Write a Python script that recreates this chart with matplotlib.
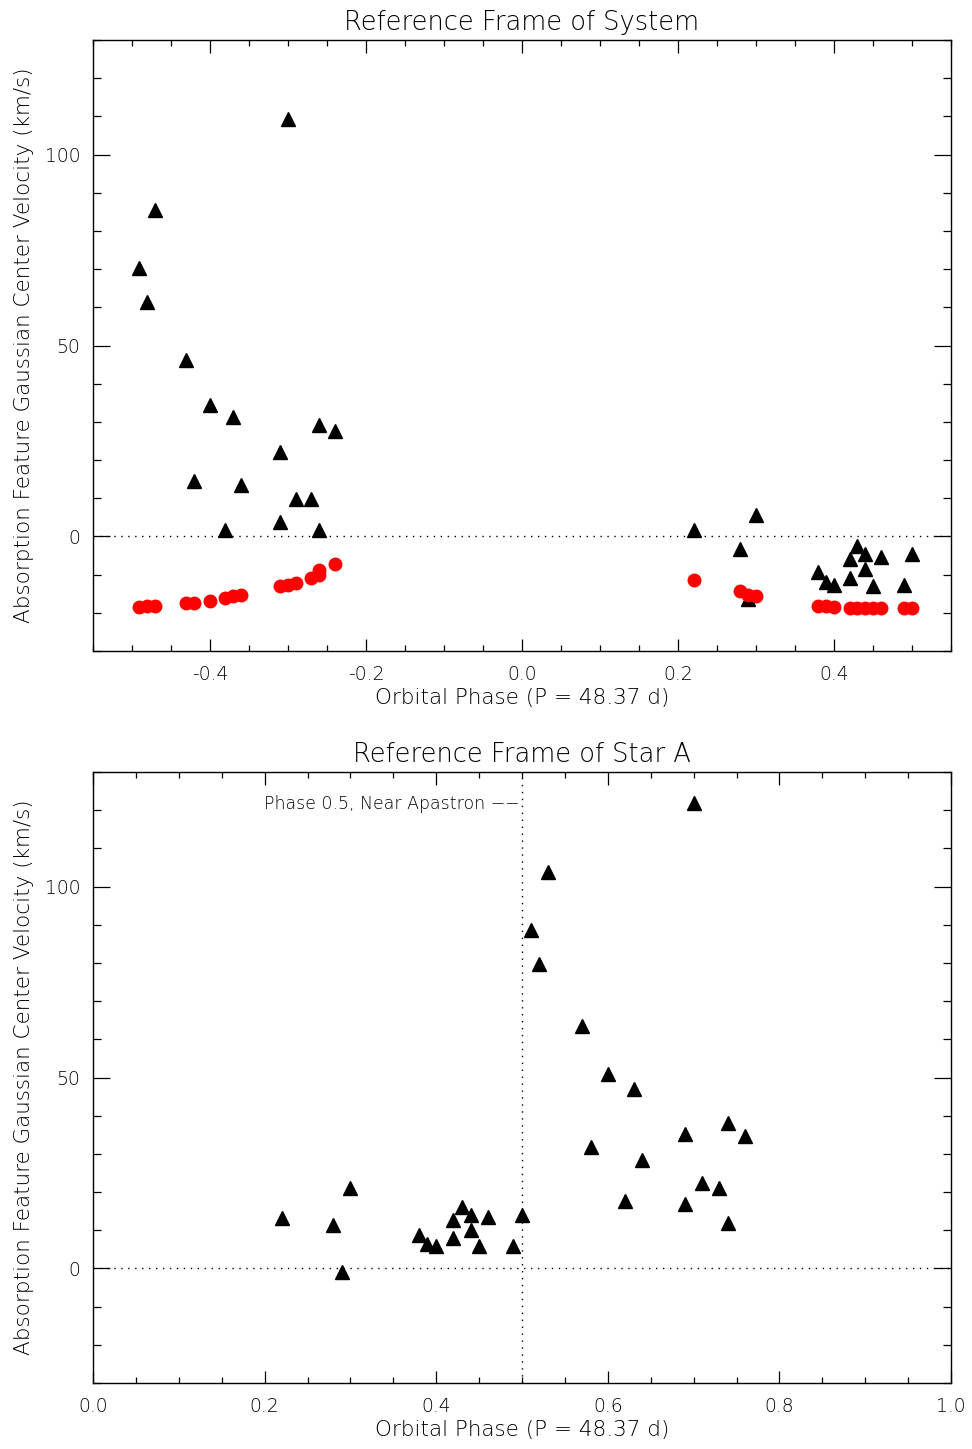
import matplotlib
matplotlib.use("Agg")
import matplotlib.pyplot as plt
from matplotlib.ticker import MultipleLocator, FormatStrFormatter

# ---- Data: Reference frame of system (top) ----
phase_sys = [-0.491, -0.481, -0.47, -0.431, -0.42, -0.40, -0.381, -0.37, -0.36,
             -0.31, -0.31, -0.30, -0.29, -0.27, -0.26, -0.26, -0.24,
             0.22, 0.28, 0.29, 0.30, 0.38, 0.39, 0.40, 0.42, 0.42, 0.43,
             0.44, 0.44, 0.45, 0.46, 0.49, 0.50]
vel_sys = [70.2, 61.5, 85.6, 46.3, 14.4, 34.3, 1.8, 31.4, 13.4,
           22.0, 3.7, 109.2, 9.9, 9.9, 29.1, 1.6, 27.5,
           1.6, -3.4, -16.5, 5.5, -9.4, -12.0, -12.6, -11.0, -5.8, -2.6,
           -4.5, -8.6, -13.1, -5.5, -12.8, -4.5]
phase_red = [-0.491, -0.481, -0.47, -0.431, -0.42, -0.40, -0.381, -0.37, -0.36,
             -0.31, -0.30, -0.29, -0.27, -0.26, -0.26, -0.24,
             0.22, 0.28, 0.29, 0.30, 0.38, 0.39, 0.40, 0.42, 0.43,
             0.44, 0.45, 0.46, 0.49, 0.50]
vel_red = [-18.6, -18.3, -18.1, -17.3, -17.3, -16.8, -16.0, -15.7, -15.4,
           -13.1, -12.6, -12.3, -11.0, -10.2, -8.9, -7.1,
           -11.3, -14.4, -15.2, -15.7, -18.1, -18.3, -18.4, -18.8, -18.8,
           -18.8, -18.8, -18.8, -18.8, -18.8]

# ---- Data: Reference frame of Star A (bottom) ----
phase_a = [0.22, 0.28, 0.29, 0.30, 0.38, 0.389, 0.40, 0.42, 0.42, 0.43, 0.44,
           0.44, 0.45, 0.46, 0.49, 0.50, 0.51, 0.52, 0.53, 0.57, 0.58, 0.60,
           0.62, 0.63, 0.64, 0.69, 0.69, 0.70, 0.71, 0.73, 0.74, 0.74, 0.76]
vel_a = [13.1, 11.3, -1.0, 21.2, 8.9, 6.5, 6.0, 12.8, 7.9, 16.2, 14.1,
         10.2, 5.8, 13.4, 5.8, 14.1, 88.7, 79.8, 103.7, 63.6, 31.7, 51.0,
         17.8, 47.1, 28.5, 35.1, 17.0, 122.0, 22.3, 21.2, 38.2, 11.8, 34.8]

titles = ["Reference Frame of System", "Reference Frame of Star A"]
xlabel = "Orbital Phase (P = 48.37 d)"
ylabel = "Absorption Feature Gaussian Center Velocity (km/s)"
annot = "Phase 0.5, Near Apastron \u2212\u2212"

plt.rcParams['font.family'] = ['DejaVu Sans']
plt.rcParams['font.weight'] = 'light'

fig = plt.figure(figsize=(9.72, 14.49), dpi=100)
ax1 = fig.add_axes([0.0957, 0.5507, 0.8827, 0.4217])
ax2 = fig.add_axes([0.0957, 0.0455, 0.8827, 0.4217])


def style(ax, xmaj, xmin):
    ax.set_ylim(-30, 130)
    ax.yaxis.set_major_locator(MultipleLocator(50))
    ax.yaxis.set_minor_locator(MultipleLocator(10))
    ax.xaxis.set_major_locator(MultipleLocator(xmaj))
    ax.xaxis.set_minor_locator(MultipleLocator(xmin))
    ax.xaxis.set_major_formatter(FormatStrFormatter('%.1f'))
    ax.tick_params(axis='both', which='both', direction='in', top=True, right=True,
                   labelsize=13.5, colors='black', width=0.9)
    ax.tick_params(axis='x', which='major', length=9, pad=10)
    ax.tick_params(axis='x', which='minor', length=4.5)
    ax.tick_params(axis='y', which='major', length=12, pad=9)
    ax.tick_params(axis='y', which='minor', length=6)
    for s in ax.spines.values():
        s.set_linewidth(1.0)
    ax.set_xlabel(xlabel, fontsize=15.5, labelpad=3, fontweight='light')
    ax.set_ylabel(ylabel, fontsize=15.5, labelpad=8, fontweight='light')


# Top panel
ax1.set_xlim(-0.55, 0.55)
style(ax1, 0.2, 0.05)
ax1.axhline(0, color='black', linestyle=(0, (1, 4)), linewidth=1)
ax1.plot(phase_sys, vel_sys, linestyle='none', marker='^', color='black', markersize=10)
ax1.plot(phase_red, vel_red, linestyle='none', marker='o', color='#ff0000', markersize=9)
ax1.set_title(titles[0], fontsize=18.5, pad=7, fontweight='light')

# Bottom panel
ax2.set_xlim(0.0, 1.0)
style(ax2, 0.2, 0.05)
ax2.axhline(0, color='black', linestyle=(0, (1, 4)), linewidth=1)
ax2.axvline(0.5, color='black', linestyle=(0, (1, 4)), linewidth=1)
ax2.plot(phase_a, vel_a, linestyle='none', marker='^', color='black', markersize=10)
ax2.text(0.497, 121.5, annot, ha='right', va='center', fontsize=12.5, fontweight='light')
ax2.set_title(titles[1], fontsize=18.5, pad=7, fontweight='light')

fig.savefig("out.png", dpi=100)
